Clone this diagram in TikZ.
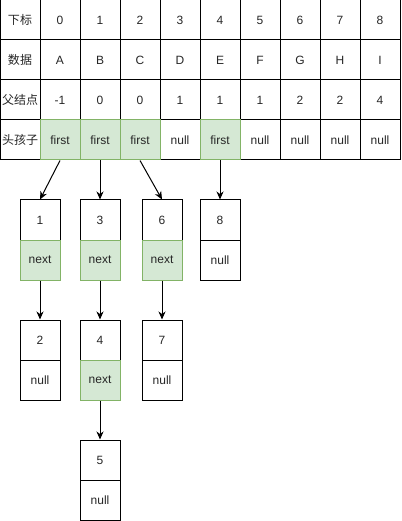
\documentclass[tikz,border=0pt]{standalone}
\usepackage{fontspec}
\setmainfont{Liberation Sans}
\newfontfamily\cjk{Noto Sans CJK SC}
\usetikzlibrary{arrows.meta}
\definecolor{gfill}{HTML}{D5E8D4}
\definecolor{gline}{HTML}{82B366}
\begin{document}
\begin{tikzpicture}[x=1pt,y=-1pt,
  cell/.style={draw=black,line width=1pt,minimum width=40pt,minimum height=40pt,inner sep=0pt,font=\fontsize{12}{14}\selectfont,text=black!85},
  gcell/.style={cell,draw=gline,fill=gfill},
  link/.style={draw=black,line width=1pt,-{Stealth[length=8pt,width=7pt,inset=2.5pt]}}]
\useasboundingbox (0,0) rectangle (401,521);
% table
\node[cell] (h0) at (20,20) {\cjk 下标};
\node[cell] (h1) at (20,60) {\cjk 数据};
\node[cell] (h2) at (20,100) {\cjk 父结点};
\node[cell] (h3) at (20,140) {\cjk 头孩子};
\foreach \i/\d/\p [count=\c from 1] in {0/A/-1,1/B/0,2/C/0,3/D/1,4/E/1,5/F/1,6/G/2,7/H/2,8/I/4}{
  \node[cell] (i\c) at (20+40*\c,20) {\i};
  \node[cell] (d\c) at (20+40*\c,60) {\d};
  \node[cell] (p\c) at (20+40*\c,100) {\p};
}
\node[cell] (f4) at (180,140) {null};
\foreach \c in {6,7,8,9}{\node[cell] (f\c) at (20+40*\c,140) {null};}
\node[gcell] (f1) at (60,140) {first};
\node[gcell] (f2) at (100,140) {first};
\node[gcell] (f3) at (140,140) {first};
\node[gcell] (f5) at (220,140) {first};
% child lists
\node[cell] (b1) at (40,220) {1};
\node[gcell] (b1n) at (40,260) {next};
\node[cell] (b3) at (100,220) {3};
\node[gcell] (b3n) at (100,260) {next};
\node[cell] (b6) at (162,220) {6};
\node[gcell] (b6n) at (162,260) {next};
\node[cell] (b8) at (220,220) {8};
\node[cell] (b8n) at (220,260) {null};
\node[cell] (b2) at (40,340) {2};
\node[cell] (b2n) at (40,380) {null};
\node[cell] (b4) at (100,340) {4};
\node[gcell] (b4n) at (100,380) {next};
\node[cell] (b7) at (162,340) {7};
\node[cell] (b7n) at (162,380) {null};
\node[cell] (b5) at (100,460) {5};
\node[cell] (b5n) at (100,500) {null};
% links
\draw[link] (f1.south) -- (b1.north);
\draw[link] (f2.south) -- (b3.north);
\draw[link] (f3.south) -- (b6.north);
\draw[link] (f5.south) -- (b8.north);
\draw[link] (b1n.south) -- (b2.north);
\draw[link] (b3n.south) -- (b4.north);
\draw[link] (b6n.south) -- (b7.north);
\draw[link] (b4n.south) -- (b5.north);
\end{tikzpicture}
\end{document}
